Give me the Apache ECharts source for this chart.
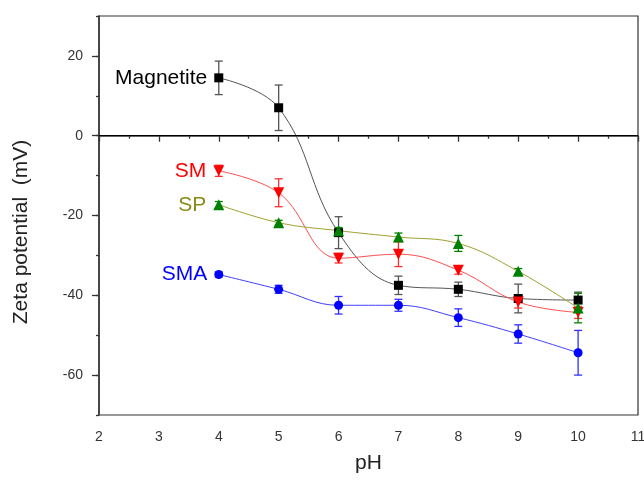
<!DOCTYPE html>
<html><head><meta charset="utf-8">
<script src="https://cdn.jsdelivr.net/npm/echarts@6/dist/echarts.min.js"></script>
<style>html,body{margin:0;padding:0;background:#fff;overflow:hidden}#c{width:644px;height:482px}</style>
</head><body><div id="c"></div>
<script>
const pH = [4, 5, 6, 7, 8, 9, 10];
const magnetite = [14.5, 7.0, -24.3, -37.5, -38.5, -40.8, -41.2];
const magnetiteErr = [4.2, 5.7, 4.0, 2.3, 1.8, 3.6, 2.0];
const sm = [-8.8, -14.3, -30.7, -29.7, -33.7, -41.7, -44.3];
const smErr = [1.4, 3.5, 1.2, 3.1, 1.0, 1.5, 1.5];
const sp = [-17.3, -21.8, -23.8, -25.4, -27.0, -34.0, -43.2];
const spErr = [0.8, 0.6, 0.8, 1.0, 2.0, 0.7, 3.7];
const sma = [-34.8, -38.5, -42.5, -42.5, -45.6, -49.7, -54.4];
const smaErr = [0.6, 1.0, 2.2, 1.5, 2.2, 2.3, 5.6];
const yTickLabels = [-60, -40, -20, 0, 20];
const xTickLabels = [2, 3, 4, 5, 6, 7, 8, 9, 10, 11];

const FONT = '"Liberation Sans", Arial, sans-serif';

function pts(vals) { return pH.map((x, i) => [x, vals[i]]); }
function errData(vals, errs) { return pH.map((x, i) => [x, vals[i] - errs[i], vals[i] + errs[i]]); }

function errSeries(vals, errs, color) {
  return {
    type: 'custom', z: 3, silent: true,
    data: errData(vals, errs),
    renderItem: function (params, api) {
      const x = api.value(0);
      const lo = api.coord([x, api.value(1)]);
      const hi = api.coord([x, api.value(2)]);
      const w = 4;
      const st = { stroke: color, lineWidth: 1.3 };
      return { type: 'group', children: [
        { type: 'line', shape: { x1: lo[0], y1: lo[1], x2: hi[0], y2: hi[1] }, style: st },
        { type: 'line', shape: { x1: lo[0] - w, y1: lo[1], x2: lo[0] + w, y2: lo[1] }, style: st },
        { type: 'line', shape: { x1: hi[0] - w, y1: hi[1], x2: hi[0] + w, y2: hi[1] }, style: st }
      ]};
    }
  };
}

function lineSeries(name, vals, lineColor, markColor, labelColor, symbol, size, extra) {
  return Object.assign({
    name: name, type: 'line', smooth: 0.4, z: 4,
    data: pts(vals),
    symbol: symbol, symbolSize: size,
    lineStyle: { color: lineColor, width: 1 },
    itemStyle: { color: markColor },
    label: {
      show: true, position: 'left', distance: 7,
      color: labelColor, fontSize: 21, fontFamily: FONT,
      formatter: p => p.dataIndex === 0 ? name : ''
    }
  }, extra || {});
}

const chart = echarts.init(document.getElementById('c'), null, { renderer: 'canvas' });
chart.setOption({
  animation: false,
  backgroundColor: '#fff',
  grid: { left: 99, top: 16, right: 6, bottom: 67, outerBoundsMode: 'none', containLabel: false,
    show: true, borderColor: '#333', borderWidth: 1.2, backgroundColor: 'transparent' },
  graphic: [{
    type: 'text', x: 11, y: 232, rotation: Math.PI / 2,
    style: { text: 'Zeta potential  (mV)', fontSize: 21, fontFamily: FONT, fill: '#222', align: 'center', verticalAlign: 'top' }
  }],
  xAxis: {
    type: 'value', min: 2, max: 11, interval: 1,
    name: 'pH', nameLocation: 'middle', nameGap: 38,
    nameTextStyle: { fontSize: 21, color: '#222', fontFamily: FONT },
    axisLine: { lineStyle: { color: '#333', width: 1.5 } },
    axisTick: { show: true, length: 6, lineStyle: { color: '#333', width: 1.3 } },
    minorTick: { show: true, splitNumber: 2, length: 3, lineStyle: { color: '#333', width: 1.3 } },
    axisLabel: { fontSize: 14, color: '#333', fontFamily: FONT, margin: 15, formatter: v => xTickLabels.includes(v) ? String(v) : '' },
    splitLine: { show: false }
  },
  yAxis: [{
    type: 'value', min: -70, max: 30, interval: 10,
    axisLine: { lineStyle: { color: '#333', width: 1.5 } },
    axisTick: { show: true, length: 3, lineStyle: { color: '#333', width: 1.3 } },
    axisLabel: { fontSize: 14, color: '#333', fontFamily: FONT, margin: 16, formatter: v => yTickLabels.includes(v) ? String(v) : '' },
    splitLine: { show: false }
  }, {
    type: 'value', min: -70, max: 30, position: 'left', offset: 0,
    axisLine: { show: false },
    axisTick: { show: true, length: 7, customValues: yTickLabels, lineStyle: { color: '#333', width: 1.3 } },
    axisLabel: { show: false },
    splitLine: { show: false }
  }],
  series: [
    lineSeries('Magnetite', magnetite, '#555', '#000', '#000', 'rect', 9, {
      markLine: { silent: true, symbol: 'none', label: { show: false },
        lineStyle: { color: '#000', width: 1.2, type: 'solid' }, data: [{ yAxis: 0 }] }
    }),
    errSeries(magnetite, magnetiteErr, '#555'),
    lineSeries('SM', sm, '#ff5050', '#ff0000', '#ff0000', 'triangle', 11, { symbolRotate: 180 }),
    errSeries(sm, smErr, '#ff3030'),
    lineSeries('SP', sp, '#a0a030', '#008000', '#8a8a1a', 'triangle', 11),
    errSeries(sp, spErr, '#008000'),
    lineSeries('SMA', sma, '#4040ff', '#0000ff', '#0000ff', 'circle', 9),
    errSeries(sma, smaErr, '#3030ff')
  ]
});
</script></body></html>
